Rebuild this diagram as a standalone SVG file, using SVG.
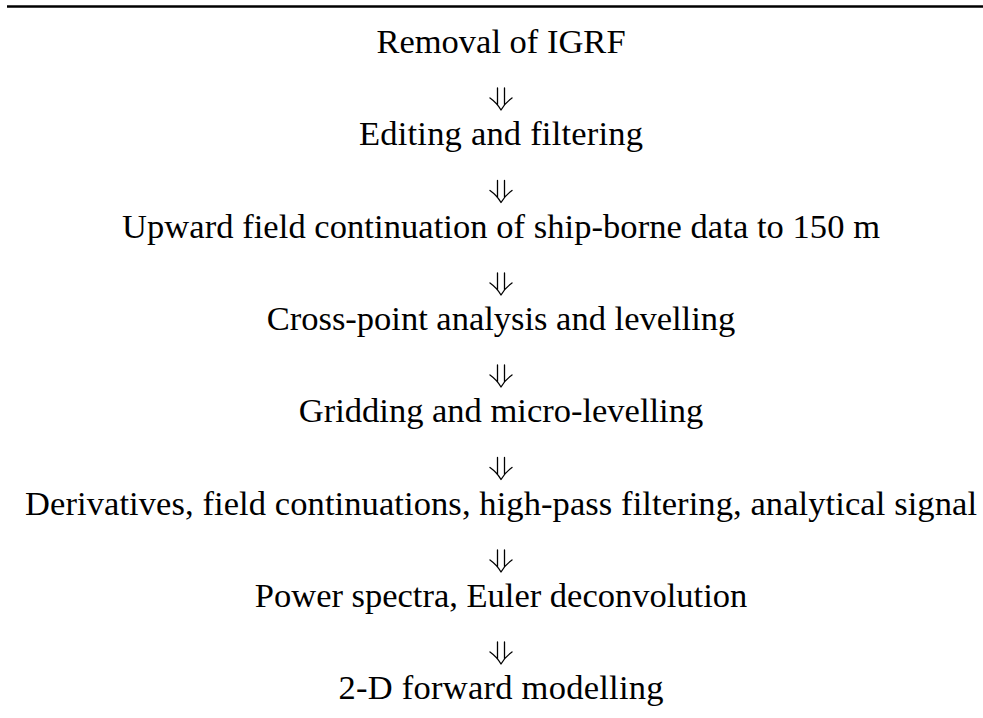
<svg xmlns="http://www.w3.org/2000/svg" width="983" height="718" viewBox="0 0 983 718">
<style>
.t{font-family:"Liberation Serif","Times New Roman",serif;font-size:34.5px;fill:#000;text-anchor:middle}
.a{fill:none;stroke:#000;stroke-width:1.3;stroke-linecap:round;stroke-linejoin:round}
</style>
<defs>
<path id="arr" class="a" d="M-3.5,0 V17 M3.5,0 V17 M-11,10 Q-4,15 0,22 Q4,15 11,10"/>
</defs>
<rect width="983" height="718" fill="#fff"/>
<line x1="7" y1="6.5" x2="983" y2="6.5" stroke="#000" stroke-width="2.6"/>
<g id="n1"><text class="t" x="501" y="53">Removal of IGRF</text></g>
<g id="n2"><text class="t" x="501" y="145" textLength="284">Editing and filtering</text></g>
<g id="n3"><text class="t" x="501" y="237.5" textLength="758">Upward field continuation of ship-borne data to 150 m</text></g>
<g id="n4"><text class="t" x="501" y="330">Cross-point analysis and levelling</text></g>
<g id="n5"><text class="t" x="501" y="422">Gridding and micro-levelling</text></g>
<g id="n6"><text class="t" x="501" y="514.5" textLength="952">Derivatives, field continuations, high-pass filtering, analytical signal</text></g>
<g id="n7"><text class="t" x="501" y="607">Power spectra, Euler deconvolution</text></g>
<g id="n8"><text class="t" x="501" y="699" textLength="325">2-D forward modelling</text></g>
<g id="connectors">
<use href="#arr" x="501" y="88"/>
<use href="#arr" x="501" y="180.5"/>
<use href="#arr" x="501" y="273"/>
<use href="#arr" x="501" y="365"/>
<use href="#arr" x="501" y="457.5"/>
<use href="#arr" x="501" y="550"/>
<use href="#arr" x="501" y="642"/>
</g>
</svg>
